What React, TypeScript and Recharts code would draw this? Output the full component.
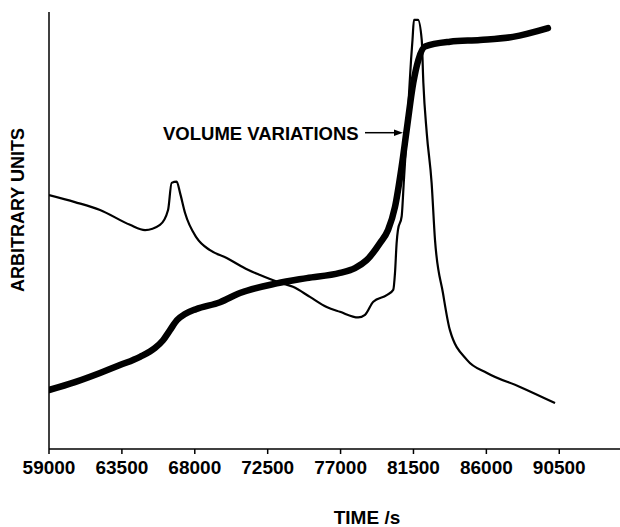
import { Line, LineChart, XAxis, YAxis } from 'recharts';

// Time in seconds, values in arbitrary units.
const thinTime = [
  59000, 60600, 62150, 64000, 64930, 65850, 66350, 66570, 66880, 67090,
  67400, 68120, 68940, 69970, 71280, 72030, 73060, 74060, 75110, 76140,
  76960, 78090, 78510, 79020, 79850, 80250, 80360, 80460, 80540, 80770,
  80910, 81100, 81240, 81350, 81440, 81530, 81780, 82010, 82110, 82320,
  82620, 82830, 83320, 83750, 84800, 86040, 88080, 90240,
];
const thinValue = [
  58.1, 56.5, 54.7, 51.3, 50.1, 51.3, 54.7, 60.9, 61.2, 58.6,
  54.0, 48.3, 45.5, 43.7, 41.0, 39.8, 38.3, 37.1, 34.8, 32.5,
  31.4, 30.1, 30.7, 33.7, 35.2, 36.4, 40.3, 47.1, 50.1, 53.2,
  61.6, 73.0, 82.2, 89.0, 93.6, 98.2, 98.2, 93.6, 83.8, 72.3,
  60.9, 47.8, 35.7, 27.2, 20.4, 17.4, 14.2, 10.5,
];

const volumeTime = [
  59000, 60600, 62150, 63380, 64620, 65540, 66040, 66470, 66900, 67400,
  68070, 69560, 70790, 73060, 74910, 76960, 77890, 78610, 79430, 79930,
  80360, 80770, 81080, 81490, 81800, 82210, 83750, 85610, 87640, 89800,
];
const volumeValue = [
  13.5, 15.3, 17.4, 19.2, 21.1, 23.1, 24.9, 27.2, 29.5, 30.9,
  32.0, 33.6, 35.7, 37.9, 39.1, 40.3, 41.4, 43.2, 47.1, 50.1,
  55.4, 64.6, 73.0, 83.8, 89.0, 92.1, 93.2, 93.6, 94.3, 96.3,
];

const timeTicks = [59000, 63500, 68000, 72500, 77000, 81500, 86000, 90500];

const thinData = thinTime.map((t, i) => ({ t, v: thinValue[i] }));
const volumeData = volumeTime.map((t, i) => ({ t, v: volumeValue[i] }));

const FONT = '"Liberation Sans", Arial, sans-serif';

export default function App() {
  return (
    <div style={{ position: 'absolute', left: 0, top: 0, background: '#fff' }}>
      <LineChart
        width={620}
        height={527}
        margin={{ top: 12, right: 0, left: 39, bottom: 48 }}
        style={{ fontFamily: FONT }}
      >
        <XAxis
          dataKey="t"
          type="number"
          domain={[59000, 94250]}
          ticks={timeTicks}
          allowDataOverflow
          height={30}
          tickSize={5}
          tickMargin={7}
          stroke="#000"
          strokeWidth={1.5}
          tick={{ fill: '#000', fontSize: 19, fontWeight: 'bold', fontFamily: FONT }}
        />
        <YAxis
          type="number"
          domain={[0, 100]}
          width={10}
          tick={false}
          tickLine={false}
          stroke="#000"
          strokeWidth={1.5}
        />
        <Line
          data={thinData}
          dataKey="v"
          type="monotone"
          stroke="#000"
          strokeWidth={2.2}
          dot={false}
          activeDot={false}
          isAnimationActive={false}
        />
        <Line
          data={volumeData}
          dataKey="v"
          type="monotone"
          stroke="#000"
          strokeWidth={6.5}
          strokeLinecap="round"
          dot={false}
          activeDot={false}
          isAnimationActive={false}
        />
        <text
          x={17.5}
          y={210}
          transform="rotate(-90, 17.5, 210)"
          textAnchor="middle"
          dominantBaseline="central"
          fontSize={18}
          fontWeight="bold"
          fontFamily={FONT}
          fill="#000"
        >
          ARBITRARY UNITS
        </text>
        <text x={367} y={524} textAnchor="middle" fontSize={19} fontWeight="bold" fontFamily={FONT} fill="#000">
          TIME /s
        </text>
        <text x={163} y={139.5} fontSize={18.5} fontWeight="bold" fontFamily={FONT} fill="#000">
          VOLUME VARIATIONS
        </text>
        <line x1={365} y1={132.7} x2={396} y2={132.7} stroke="#000" strokeWidth={1.5} />
        <polygon points="403,132.7 394,129.5 394,135.9" fill="#000" />
      </LineChart>
    </div>
  );
}
